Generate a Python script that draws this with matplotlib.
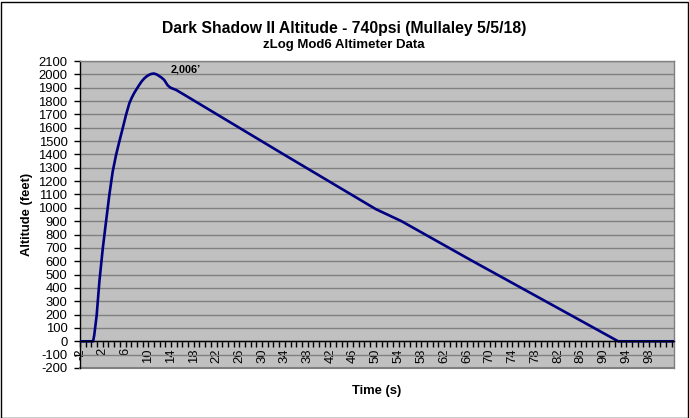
import matplotlib
matplotlib.use("Agg")
import matplotlib.pyplot as plt
from matplotlib.patches import Rectangle
from matplotlib.ticker import MultipleLocator, FixedLocator

plt.rcParams['font.family'] = ['Liberation Sans', 'DejaVu Sans']
plt.rcParams['axes.unicode_minus'] = False

# Data
time_s = [-2, 0.3, 0.5, 0.93, 1.4, 2.0, 2.57, 3.15, 3.74, 4.33, 4.9, 5.5, 6.08, 6.67,
          7.1, 7.55, 8.0, 8.4, 8.85, 9.3, 9.75, 10.2, 10.6, 11.0, 11.45, 11.9, 12.35,
          12.8, 13.1, 13.4, 13.9, 14.9, 16.6, 33.3, 50.0, 54.5, 66.7, 84.3, 92.6, 102.4]
altitude_ft = [0, 0, 45, 195, 445, 695, 895, 1095, 1270, 1395, 1495, 1595, 1695, 1783,
               1825, 1862, 1893, 1920, 1948, 1970, 1986, 1998, 2004, 2006, 2000, 1988, 1975,
               1958, 1938, 1918, 1900, 1883, 1840, 1413, 990, 900, 608, 195, 0, 0]
x_tick_labels = list(range(-2, 99, 4))
y_ticks = list(range(-200, 2101, 100))

title = "Dark Shadow II Altitude - 740psi (Mullaley 5/5/18)"
subtitle = "zLog Mod6 Altimeter Data"
peak_label = "2,006\u2019"

W, H = 689, 418
fig = plt.figure(figsize=(W / 100, H / 100), dpi=100)
fig.patch.set_facecolor('white')

L, R, T, B = 80, 674, 61, 368
ax = fig.add_axes([L / W, 1 - B / H, (R - L) / W, (B - T) / H])
ax.set_facecolor('#C0C0C0')

for s in ['top', 'right']:
    ax.spines[s].set_color('#808080')
    ax.spines[s].set_linewidth(1.0)
ax.spines['left'].set_color('black')
ax.spines['left'].set_linewidth(1.0)
ax.spines['bottom'].set_position(('data', 0))
ax.spines['bottom'].set_color('black')
ax.spines['bottom'].set_linewidth(1.0)
ax.spines['bottom'].set_zorder(4)

ax.plot(time_s, altitude_ft, color='#000080', lw=1.9, zorder=3, solid_joinstyle='round')

ax.set_xlim(-2, 102.4)
ax.set_ylim(-200, 2100)

ax.set_yticks(y_ticks)
ax.set_yticklabels([str(v) for v in y_ticks])
ax.yaxis.grid(True, color='#808080', lw=1.0)
ax.set_axisbelow(True)

ax.xaxis.set_major_locator(FixedLocator(x_tick_labels))
ax.set_xticklabels([str(v) for v in x_tick_labels])
ax.xaxis.set_minor_locator(MultipleLocator(1))

ax.axhline(-200, color='#808080', lw=1.5, clip_on=False, zorder=2)

ax.tick_params(axis='y', direction='out', length=4, width=1, color='black',
               labelsize=9.4, pad=5)
ax.tick_params(axis='x', which='both', direction='out', length=4, width=1,
               color='black', labelsize=9.4, pad=1, labelrotation=90)
ax.tick_params(axis='x', which='minor', labelbottom=False)
for lab in ax.get_xticklabels():
    lab.set_va('top')
    lab.set_ha('center')

ax.text(14.0, 2040, peak_label, fontsize=7.8, fontweight='bold', ha='left', va='center')

fig.text(344 / W, 1 - 33 / H, title, fontsize=11.3, fontweight='bold',
         ha='center', va='baseline')
fig.text(344 / W, 1 - 48.3 / H, subtitle, fontsize=9.5, fontweight='bold',
         ha='center', va='baseline')
fig.text(377 / W, 1 - 394.3 / H, "Time (s)", fontsize=9.4, fontweight='bold',
         ha='center', va='baseline')
fig.text(27 / W, 1 - 214 / H, "Altitude (feet)", fontsize=9.4, fontweight='bold',
         ha='center', va='center', rotation=90)

fig.add_artist(Rectangle((0.5 / W, 0.5 / H), (W - 2) / W, (H - 2) / H,
                         transform=fig.transFigure, fill=False, edgecolor='black', lw=1.0))

fig.savefig('out.png', dpi=100)
